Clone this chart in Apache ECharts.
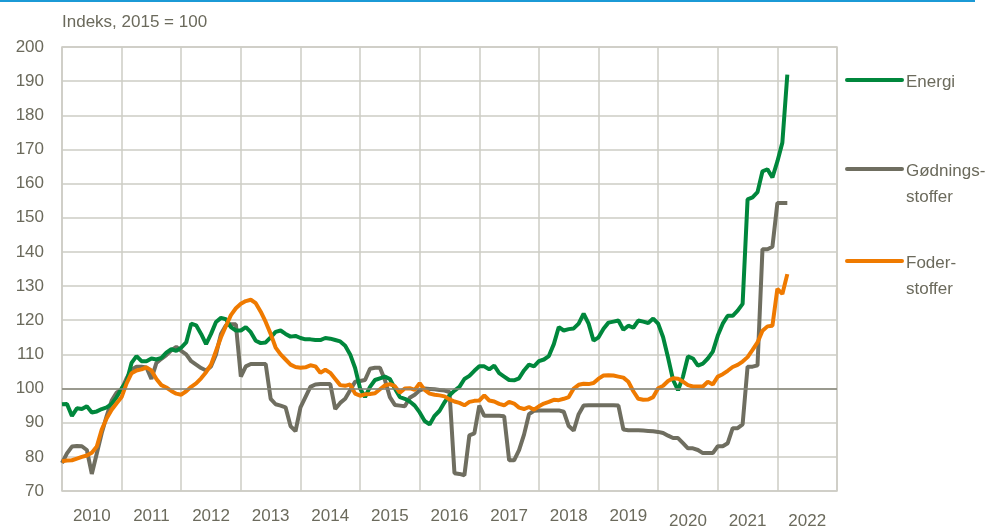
<!DOCTYPE html>
<html>
<head>
<meta charset="utf-8">
<script src="https://cdn.jsdelivr.net/npm/echarts@6/dist/echarts.min.js"></script>
<style>
html,body{margin:0;padding:0;background:#fff;}
#chart{width:988px;height:530px;}
</style>
</head>
<body>
<div id="chart"></div>
<script>
// Monthly, Jan 2010 .. Mar 2022 (index 0 = Jan 2010)
const yearLabels = ['2010','2011','2012','2013','2014','2015','2016','2017','2018','2019','2020','2021','2022'];
const yTicks = [70,80,90,100,110,120,130,140,150,160,170,180,190,200];
const seriesNames = ['Energi','Gødnings-\nstoffer','Foder-\nstoffer'];

const energi = [
95.4,95.5,92,94.2,94,94.8,93,93.3,94,94.5,95.5,97.5,
100,102,107.5,109.5,108,108,108.8,108.5,109,110.5,111.5,111,
112,113.5,119,118.5,116,113,116,119.5,120.7,120.3,118,117,
117,118,116.5,114,113.3,113.5,115,116.6,117,116,115.2,115.4,
114.8,114.4,114.4,114.2,114.2,114.8,114.6,114.2,113.8,112.5,110,106,
100,97.5,100.5,102.5,103,103.5,102.8,100,97.5,97,96.2,95,
93,90.5,89.5,92,93.5,96,98,99.4,100.5,102.8,103.7,105.2,
106.5,106.5,105.6,106.7,104.5,103.5,102.5,102.4,103,105.3,107,106.5,
108,108.5,109.5,113,118,117,117.4,117.6,119,121.9,119,114,
115,117.5,119.3,119.6,119.9,117.2,118.4,117.8,119.9,119.6,119.2,120.5,
119,115,109,102.5,99.5,103.5,109.4,108.8,106.7,107.3,108.8,110.8,
115.5,119,121.3,121.3,122.8,124.8,155.4,156,157.5,163.6,164.2,161.8,
166.5,172,191.9
];
const goedning = [
78.2,81,83,83.2,83.1,82,75,81,87,92,96.5,98.8,
99.8,103,105.5,106.4,106.4,106.2,102.8,107.5,108.7,109.8,111.2,112.2,
111,110,108,107,106,105.3,106.5,110,116,118.5,118.8,118.8,
103.5,106.5,107.2,107.2,107.2,107.2,97,95.4,95,94.5,89,87.5,
94.5,97.5,100.5,101.2,101.3,101.3,101.3,94,95.8,97,99.5,102,
102.2,102.5,105.8,106.1,106.1,102.5,97.5,95.2,95,94.8,97.3,98.2,
99.5,100,99.9,99.8,99.6,99.4,99,75.2,75,74.6,86.3,86.9,
95,92,92,92,92,91.9,79,79,82,86.5,92.5,93.5,
93.6,93.6,93.6,93.6,93.6,93.2,89,87.7,92.5,95,95.1,95.1,
95.1,95.1,95.1,95.1,95,88,87.8,87.8,87.8,87.7,87.6,87.5,
87.3,87,86.2,85.5,85.5,84,82.5,82.5,82,81.1,81.1,81.1,
83.1,83.1,84,88.4,88.4,89.5,106.4,106.4,106.8,140.8,140.8,141.5,
154.3,154.3,154.3
];
const foder = [
78.7,78.9,79,79.5,80,80.4,81.2,83,88,91.3,93.8,95.7,
97.5,101.5,104.5,105.3,105.6,106.2,105.3,102.8,101,100.3,99.3,98.5,
98.2,99.2,100.5,101.5,103,104.8,107,111,115,118.3,121.5,123.5,
124.8,125.6,126,125,122.5,119.5,116,112,110,108.5,107,106.3,
106.1,106.2,106.8,106.5,104.6,105.5,104.6,102.8,101,100.8,101.2,98.5,
97.9,98.3,98.4,98.6,99.8,100.9,101.3,100.7,98.8,100,100.1,99.6,
101.6,99.6,98.5,98.2,98,97.7,96.8,96.2,95.8,95.1,96.1,96.4,
96.5,98,96.5,96.2,95.5,95.1,96.1,95.6,94.4,94,94.6,93.8,
94.8,95.6,96.1,96.7,96.6,97,97.5,100,101.1,101.4,101.3,101.6,
102.9,103.8,103.9,103.8,103.5,103.2,102,99.2,97,96.7,96.8,97.5,
100.1,100.8,102.2,103,102.9,102,101,100.6,100.6,100.6,102,101.2,
103.5,104.2,105.2,106.3,106.9,107.9,109.2,111.3,113.5,116.9,118.2,118.4,
129.2,127.7,133.5
];

const colors = ['#00873c','#6f6e60','#ef7a00'];
const textColor = '#6b6a5c';
const gridColor = '#cdccc4';
const fontFam = '"Liberation Sans", Arial, sans-serif';

function toXY(arr){ return arr.map((v,i)=>[i,v]); }

const chart = echarts.init(document.getElementById('chart'), null, {renderer:'canvas'});

const legendY = [80, 169, 261];
const legendGraphics = [];
seriesNames.forEach((n,k)=>{
  legendGraphics.push({type:'line', shape:{x1:847,y1:legendY[k],x2:902,y2:legendY[k]},
    style:{stroke:colors[k],lineWidth:4,lineCap:'round'}});
  legendGraphics.push({type:'text', left:906, top:legendY[k]-11,
    style:{text:n, fill:textColor, font:'17px ' + fontFam, lineHeight:26}});
});

const option = {
  animation:false,
  backgroundColor:'#fff',
  title:{text:'Indeks, 2015 = 100', left:57, top:9,
    textStyle:{color:textColor, fontSize:17, fontWeight:'normal', fontFamily:fontFam}},
  grid:{left:62, right:151, top:47, bottom:37, show:true, borderColor:gridColor, borderWidth:1.5},
  xAxis:[
    {type:'value', min:0, max:156, interval:12,
     axisLine:{show:false}, axisTick:{show:false}, axisLabel:{show:false},
     splitLine:{show:true, lineStyle:{color:gridColor, width:1.5}}},
    {type:'category', data:yearLabels, position:'bottom', boundaryGap:true,
     axisLine:{show:false}, axisTick:{show:false}, splitLine:{show:false},
     axisLabel:{interval:0, color:textColor, fontSize:17, fontFamily:fontFam, margin:17,
       formatter:function(v){ return (v==='2020'||v==='2021'||v==='2022') ? '{low|'+v+'}' : v; },
       rich:{low:{color:textColor, fontSize:17, fontFamily:fontFam, padding:[5,0,0,0]}}}}
  ],
  yAxis:{type:'value', min:yTicks[0], max:yTicks[yTicks.length-1], interval:10,
    axisLine:{show:false}, axisTick:{show:false},
    axisLabel:{color:textColor, fontSize:17, fontFamily:fontFam, margin:18},
    splitLine:{show:true, lineStyle:{color:gridColor, width:1.5}}},
  series:[
    {name:seriesNames[1], type:'line', xAxisIndex:0, data:toXY(goedning), showSymbol:false,
     lineStyle:{color:colors[1], width:4}, itemStyle:{color:colors[1]},
     markLine:{silent:true, symbol:'none', label:{show:false},
       lineStyle:{color:'#858479', width:1.5, type:'solid'}, data:[{yAxis:100}]}},
    {name:seriesNames[0], type:'line', xAxisIndex:0, data:toXY(energi), showSymbol:false,
     lineStyle:{color:colors[0], width:4}, itemStyle:{color:colors[0]}},
    {name:seriesNames[2], type:'line', xAxisIndex:0, data:toXY(foder), showSymbol:false,
     lineStyle:{color:colors[2], width:4}, itemStyle:{color:colors[2]}}
  ],
  graphic:[{type:'rect', shape:{x:0,y:0,width:975,height:2}, style:{fill:'#1b9ad6'}}].concat(legendGraphics)
};
chart.setOption(option);
</script>
</body>
</html>
